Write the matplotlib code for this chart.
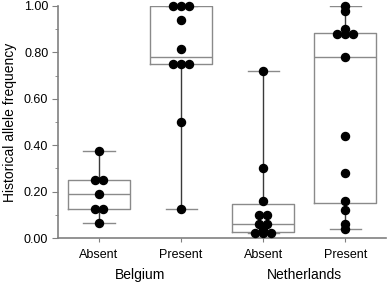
import numpy as np
import matplotlib.pyplot as plt
from matplotlib.ticker import MultipleLocator
import matplotlib.transforms as mtransforms

plt.rcParams['font.family'] = ['Liberation Sans', 'DejaVu Sans']

# historical allele frequency per group
belgium_absent = [0.375, 0.25, 0.25, 0.1875, 0.125, 0.125, 0.0625]
belgium_present = [1.0, 1.0, 1.0, 0.9375, 0.8125, 0.75, 0.75, 0.75, 0.5, 0.125]
nl_absent = [0.72, 0.30, 0.16, 0.10, 0.10, 0.06, 0.06, 0.04, 0.02, 0.02, 0.02]
nl_present = [1.00, 0.98, 0.90, 0.88, 0.88, 0.88, 0.78, 0.44, 0.28, 0.16, 0.12, 0.06, 0.04]

groups = [belgium_absent, belgium_present, nl_absent, nl_present]
tick_labels = ['Absent', 'Present', 'Absent', 'Present']
countries = ['Belgium', 'Netherlands']

box_col = '#8a8a8a'
wh_col = '#3a3a3a'

fig = plt.figure(figsize=(3.88, 2.83), dpi=100)
ax = fig.add_axes([0.1495, 0.159, 0.846, 0.82])

stats = []
for g in groups:
    a = np.array(g)
    q1, med, q3 = np.percentile(a, [25, 50, 75], method='hazen')
    stats.append(dict(med=med, q1=q1, q3=q3, whislo=a.min(), whishi=a.max(), fliers=[]))

pos = np.arange(1, len(groups) + 1)
ax.bxp(stats, positions=pos, widths=0.75, capwidths=0.38, showfliers=False,
       boxprops=dict(color=box_col, linewidth=1.0),
       medianprops=dict(color=box_col, linewidth=1.0),
       whiskerprops=dict(color=wh_col, linewidth=1.0),
       capprops=dict(color=box_col, linewidth=1.0))

# dots, spread sideways where values repeat
for p, g in zip(pos, groups):
    vals, counts = np.unique(g, return_counts=True)
    for v, c in zip(vals, counts):
        offs = (np.arange(c) - (c - 1) / 2) * 0.1
        ax.plot(p + offs, [v] * c, 'o', color='black', markersize=5.8,
                clip_on=False, zorder=5)

ax.set_xlim(0.5, 4.5)
ax.set_ylim(0, 1)
ax.set_xticks(pos)
ax.set_xticklabels(tick_labels, fontsize=9)
ax.yaxis.set_minor_locator(MultipleLocator(0.1))
yt = np.arange(0, 1.01, 0.2)
ax.set_yticks(yt)
ax.set_yticklabels(['%.2f' % t for t in yt], fontsize=9)
ax.set_ylabel('Historical allele frequency', fontsize=10, labelpad=5)

for s in ['top', 'right']:
    ax.spines[s].set_visible(False)
for s in ['left', 'bottom']:
    ax.spines[s].set_color('#808080')
    ax.spines[s].set_linewidth(1.2)
ax.tick_params(axis='y', which='major', length=4, color='#808080', pad=3)
ax.tick_params(axis='y', which='minor', length=2.5, color='#808080')
ax.tick_params(axis='x', which='major', length=3, color='#808080', pad=5)

trans = mtransforms.blended_transform_factory(ax.transData, ax.transAxes)
ax.text(1.5, -0.16, countries[0], transform=trans, ha='center', va='center', fontsize=10)
ax.text(3.5, -0.16, countries[1], transform=trans, ha='center', va='center', fontsize=10)

fig.savefig('out.png', dpi=100)
